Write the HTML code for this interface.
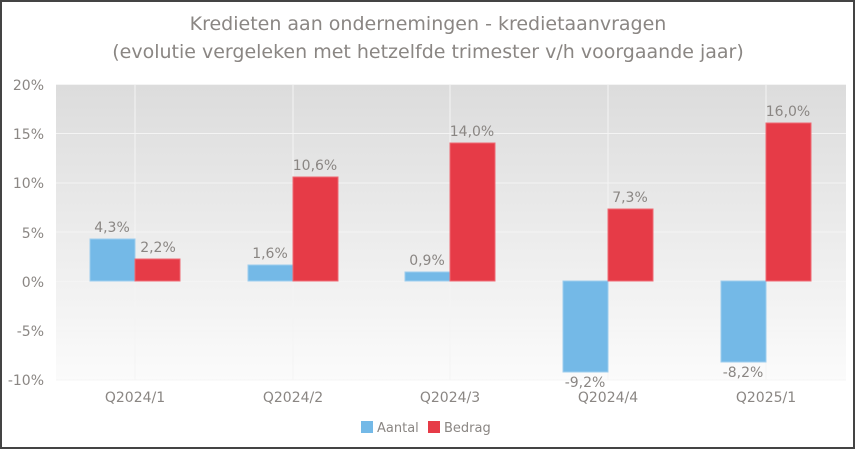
<!DOCTYPE html>
<html><head><meta charset="utf-8"><style>
body{margin:0;background:#fff;}
svg text{font-family:"DejaVu Sans","Liberation Sans",sans-serif;fill:#8a8683;}
</style></head><body>
<svg width="856" height="450" xmlns="http://www.w3.org/2000/svg">
<defs><linearGradient id="g" x1="0" y1="0" x2="0" y2="1">
<stop offset="0" stop-color="#dcdcdc"/><stop offset="1" stop-color="#fbfbfb"/></linearGradient></defs>
<rect x="1" y="1" width="853" height="447" fill="#fff" stroke="#444" stroke-width="2"/>
<text x="428" y="30" font-size="19" text-anchor="middle">Kredieten aan ondernemingen - kredietaanvragen</text>
<text x="428" y="58" font-size="19" text-anchor="middle">(evolutie vergeleken met hetzelfde trimester v/h voorgaande jaar)</text>
<rect x="56" y="84" width="790" height="296" fill="url(#g)"/>
<g stroke="#f4f4f4" stroke-width="1">
<line x1="56" x2="846" y1="84.5" y2="84.5"/><line x1="56" x2="846" y1="133.5" y2="133.5"/>
<line x1="56" x2="846" y1="183" y2="183"/><line x1="56" x2="846" y1="232" y2="232"/>
<line x1="56" x2="846" y1="281.5" y2="281.5"/><line x1="56" x2="846" y1="331" y2="331"/>
<line x1="56" x2="846" y1="380" y2="380"/>
<line x1="135" x2="135" y1="84" y2="380"/><line x1="293" x2="293" y1="84" y2="380"/>
<line x1="450" x2="450" y1="84" y2="380"/><line x1="608" x2="608" y1="84" y2="380"/>
<line x1="766" x2="766" y1="84" y2="380"/>
</g>
<g font-size="14" text-anchor="end">
<text x="44" y="90">20%</text><text x="44" y="139">15%</text><text x="44" y="188">10%</text>
<text x="44" y="238">5%</text><text x="44" y="287">0%</text><text x="44" y="336">-5%</text><text x="44" y="385">-10%</text>
</g>
<g fill="#74b9e7" stroke="#9dcdee" stroke-width="1">
<rect x="90" y="239" width="45" height="42"/>
<rect x="248" y="265" width="45" height="16"/>
<rect x="405" y="272" width="45" height="9"/>
<rect x="563" y="281" width="45" height="91"/>
<rect x="721" y="281" width="45" height="81"/>
</g>
<g fill="#e63b47" stroke="#ee6a73" stroke-width="1">
<rect x="135" y="259" width="45" height="22"/>
<rect x="293" y="177" width="45" height="104"/>
<rect x="450" y="143" width="45" height="138"/>
<rect x="608" y="209" width="45" height="72"/>
<rect x="766" y="123" width="45" height="158"/>
</g>
<g font-size="14" text-anchor="middle">
<text x="112" y="232">4,3%</text><text x="158" y="252">2,2%</text>
<text x="270" y="258">1,6%</text><text x="315" y="170">10,6%</text>
<text x="427" y="265">0,9%</text><text x="472" y="136">14,0%</text>
<text x="585" y="387">-9,2%</text><text x="630" y="202">7,3%</text>
<text x="743" y="377">-8,2%</text><text x="788" y="116">16,0%</text>
</g>
<g font-size="14" text-anchor="middle">
<text x="135" y="402">Q2024/1</text><text x="293" y="402">Q2024/2</text><text x="450" y="402">Q2024/3</text>
<text x="608" y="402">Q2024/4</text><text x="766" y="402">Q2025/1</text>
</g>
<rect x="361" y="421" width="12" height="12" fill="#74b9e7"/>
<text x="377" y="432" font-size="13">Aantal</text>
<rect x="428" y="421" width="12" height="12" fill="#e63b47"/>
<text x="444" y="432" font-size="13">Bedrag</text>
</svg>
</body></html>
